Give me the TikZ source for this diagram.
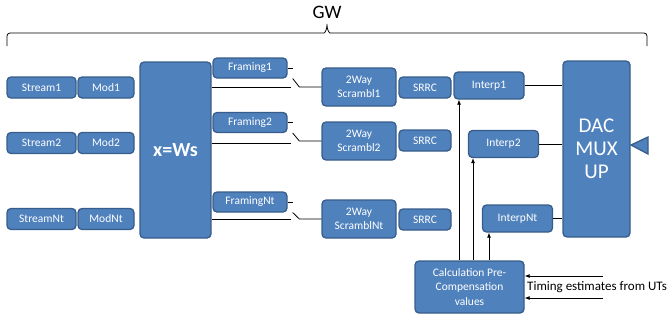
\documentclass[tikz,border=0pt]{standalone}
\usepackage{fontspec}
\setmainfont{Carlito}
\usetikzlibrary{arrows.meta,calc}
\definecolor{boxblue}{HTML}{4F81BD}
\definecolor{boxedge}{HTML}{385D8A}
\begin{document}
\begin{tikzpicture}[x=1pt,y=-1pt,
	blk/.style={draw=boxedge,line width=1.3pt,fill=boxblue,rounded corners=4pt,
		text=white,inner sep=0pt,align=center,font=\fontsize{11.5}{14.5}\selectfont},
	strm/.style={blk,minimum width=69pt,minimum height=21pt},
	modu/.style={blk,minimum width=56pt,minimum height=21pt},
	frm/.style={blk,minimum width=74pt,minimum height=20pt},
	scr/.style={blk,minimum width=74pt,minimum height=38pt},
	srrc/.style={blk,minimum width=52pt,minimum height=21pt},
	intp/.style={blk,minimum width=70pt,minimum height=27pt},
	wire/.style={line width=0.8pt},
	arr/.style={wire,-{Latex[length=5pt,width=4pt]}}]
	\useasboundingbox (0,0) rectangle (672,322);
	% sources
	\node[strm] (s1) at (41.5,87.5) {Stream1};
	\node[modu] (m1) at (106,87.5) {Mod1};
	\node[strm] (s2) at (41.5,143) {Stream2};
	\node[modu] (m2) at (106,143) {Mod2};
	\node[strm] (sNt) at (41.5,219) {StreamNt};
	\node[modu] (mNt) at (106,219) {ModNt};
	\node[blk,minimum width=71pt,minimum height=176pt,font=\fontsize{20}{23}\selectfont\bfseries] (x) at (175.5,150) {x=Ws};
	% framing and scrambling
	\node[frm] (f1) at (250,68) {Framing1};
	\node[frm] (f2) at (250,122.5) {Framing2};
	\node[frm] (fNt) at (250,202) {FramingNt};
	\node[scr] (c1) at (359,87) {2Way\\Scrambl1};
	\node[scr] (c2) at (359,141) {2Way\\Scrambl2};
	\node[scr] (cNt) at (359,219) {2Way\\ScramblNt};
	\node[srrc] (r1) at (425,87.5) {SRRC};
	\node[srrc] (r2) at (425,140.5) {SRRC};
	\node[srrc] (rNt) at (425,219.5) {SRRC};
	% interpolation
	\node[intp] (i1) at (489,85.5) {Interp1};
	\node[intp] (i2) at (503.5,144) {Interp2};
	\node[intp] (iNt) at (517.5,218.5) {InterpNt};
	\node[blk,minimum width=67pt,minimum height=176pt,font=\fontsize{21}{23}\selectfont] (dac) at (596.5,149) {DAC\\MUX\\UP};
	\node[blk,minimum width=109pt,minimum height=52pt] (calc) at (469.5,287) {Calculation Pre-\\Compensation\\values};
	\draw[draw=boxedge,fill=boxblue,line width=1.3pt] (631,145) -- (648,137) -- (648,154) -- cycle;
	% switches
	\foreach \r in {1,2,Nt} {
		\draw[wire] (f\r.east) -- ++(5,0);
		\draw[wire] ($(f\r.east)+(5,10.5)$) -- ($(c\r.west)+(-22,0)$) -- (c\r.west);
		\draw[wire] (x.east |- m\r.east) -- ++(79,0);
		\draw[wire] (i\r.east) -- (dac.west |- i\r.east);
	}
	% pre-compensation
	\draw[arr] ([xshift=-10.5pt]calc.north) -- ([xshift=-10.5pt]calc.north |- i1.south);
	\draw[arr] ([xshift=3.5pt]calc.north) -- ([xshift=3.5pt]calc.north |- i2.south);
	\draw[arr] ([xshift=19.5pt]calc.north) -- ([xshift=19.5pt]calc.north |- iNt.south);
	\coordinate (t1) at (603,276);
	\coordinate (t2) at (603,298);
	\draw[arr] (t1) -- (calc.east |- t1);
	\draw[arr] (t2) -- (calc.east |- t2);
	\node[anchor=west,inner sep=0pt,font=\fontsize{13}{15}\selectfont] (tim) at (527,287) {Timing estimates from UTs};
	% gateway brace
	\node[font=\fontsize{19}{22}\selectfont] (gw) at (327,12) {GW};
	\draw[wire,rounded corners=3pt] (7,46) -- (7,33) -- (321,33)
		.. controls (325,33) and (327,29) .. (327,22)
		.. controls (327,29) and (329,33) .. (333,33) -- (647,33) -- (647,46);
\end{tikzpicture}
\end{document}
